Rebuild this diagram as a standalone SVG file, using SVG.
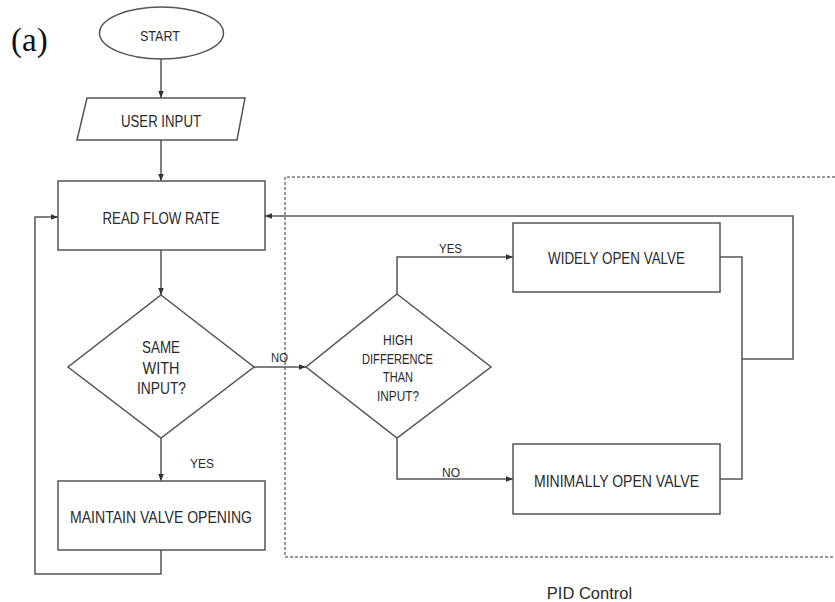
<svg xmlns="http://www.w3.org/2000/svg" width="835" height="602" viewBox="0 0 835 602">
  <style>
    .shape { fill: #ffffff; stroke: #555555; stroke-width: 1.5; }
    .wire { fill: none; stroke: #555555; stroke-width: 1.5; }
    .frame { fill: none; stroke: #777777; stroke-width: 1.5; stroke-dasharray: 3 2; }
    .lbl { font-family: "Liberation Sans", Arial, sans-serif; fill: #2a2a2a; text-anchor: middle; }
    .big { font-size: 17px; }
    .mid { font-size: 14.5px; }
    .small { font-size: 13px; }
  </style>
  <defs>
    <marker id="arrow" markerUnits="userSpaceOnUse" markerWidth="8" markerHeight="8" viewBox="0 0 8 8" refX="7" refY="4" orient="auto">
      <path d="M0,1.2 L7,4 L0,6.8 Z" fill="#333333"/>
    </marker>
  </defs>

  <rect width="835" height="602" fill="#ffffff"/>

  <text x="11" y="51" font-family="'Liberation Serif', 'Times New Roman', serif" font-size="33" fill="#111111">(a)</text>

  <!-- PID control region -->
  <g id="pid-region">
    <path class="frame" d="M835,177 H285 V557 H835"/>
    <text class="lbl" x="589.5" y="599" font-size="16.5" fill="#222222">PID Control</text>
  </g>

  <g id="connectors">
    <path class="wire" d="M161,59 V98" marker-end="url(#arrow)"/>
    <path class="wire" d="M161,140 V181" marker-end="url(#arrow)"/>
    <path class="wire" d="M161,250 V295" marker-end="url(#arrow)"/>
    <path class="wire" d="M161,438 V481" marker-end="url(#arrow)"/>
    <path class="wire" d="M161,550 V574 H35 V217 H58" marker-end="url(#arrow)"/>
    <path class="wire" d="M254,367 H306" marker-end="url(#arrow)"/>
    <path class="wire" d="M397,294 V257 H513" marker-end="url(#arrow)"/>
    <path class="wire" d="M397,438 V479 H513" marker-end="url(#arrow)"/>
    <path class="wire" d="M720,257 H742 V479 H720"/>
    <path class="wire" d="M742,359 H793 V216 H265" marker-end="url(#arrow)"/>
    <text class="lbl small" x="279.5" y="361.5" textLength="17" lengthAdjust="spacingAndGlyphs">NO</text>
    <text class="lbl small" x="450.5" y="252.5" textLength="23" lengthAdjust="spacingAndGlyphs">YES</text>
    <text class="lbl small" x="451" y="476.5" textLength="18" lengthAdjust="spacingAndGlyphs">NO</text>
    <text class="lbl small" x="202" y="467.5" textLength="24" lengthAdjust="spacingAndGlyphs">YES</text>
  </g>

  <g id="start">
    <ellipse class="shape" cx="161.5" cy="33" rx="62" ry="26"/>
    <text class="lbl" x="160" y="40.5" font-size="15" textLength="40" lengthAdjust="spacingAndGlyphs">START</text>
  </g>

  <g id="user-input">
    <polygon class="shape" points="87,98 245,98 237,140 77,140"/>
    <text class="lbl" x="161" y="127" font-size="16" textLength="80" lengthAdjust="spacingAndGlyphs">USER INPUT</text>
  </g>

  <g id="read-flow-rate">
    <rect class="shape" x="58" y="181" width="207" height="69"/>
    <text class="lbl big" x="161" y="223.5" textLength="117" lengthAdjust="spacingAndGlyphs">READ FLOW RATE</text>
  </g>

  <g id="same-with-input">
    <polygon class="shape" points="161,295 254,367 161,438 68,367"/>
    <text class="lbl big" x="161" y="353" textLength="38" lengthAdjust="spacingAndGlyphs">SAME</text>
    <text class="lbl big" x="161" y="374" textLength="37" lengthAdjust="spacingAndGlyphs">WITH</text>
    <text class="lbl big" x="161.5" y="394" textLength="49" lengthAdjust="spacingAndGlyphs">INPUT?</text>
  </g>

  <g id="maintain-valve">
    <rect class="shape" x="58" y="481" width="207" height="69"/>
    <text class="lbl big" x="161" y="523" textLength="182" lengthAdjust="spacingAndGlyphs">MAINTAIN VALVE OPENING</text>
  </g>

  <g id="high-difference">
    <polygon class="shape" points="397,294 491,367 397,438 306,367"/>
    <text class="lbl mid" x="398" y="345" textLength="30" lengthAdjust="spacingAndGlyphs">HIGH</text>
    <text class="lbl mid" x="397.5" y="363.5" textLength="71" lengthAdjust="spacingAndGlyphs">DIFFERENCE</text>
    <text class="lbl mid" x="398" y="382" textLength="30" lengthAdjust="spacingAndGlyphs">THAN</text>
    <text class="lbl mid" x="398" y="401" textLength="42" lengthAdjust="spacingAndGlyphs">INPUT?</text>
  </g>

  <g id="widely-open">
    <rect class="shape" x="513" y="223" width="207" height="69"/>
    <text class="lbl big" x="616.5" y="264" textLength="137" lengthAdjust="spacingAndGlyphs">WIDELY OPEN VALVE</text>
  </g>

  <g id="minimally-open">
    <rect class="shape" x="513" y="444" width="207" height="70"/>
    <text class="lbl big" x="616.5" y="487" textLength="165" lengthAdjust="spacingAndGlyphs">MINIMALLY OPEN VALVE</text>
  </g>
</svg>
